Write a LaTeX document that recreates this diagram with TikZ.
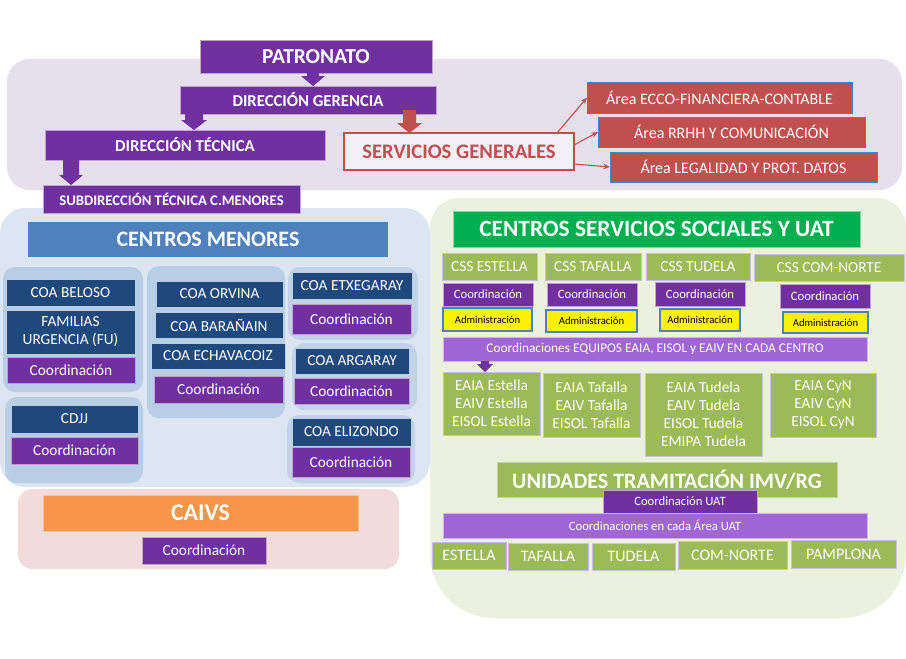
\documentclass[tikz,border=0pt]{standalone}
\usepackage{fontspec}
\setmainfont{Carlito}
\usetikzlibrary{calc,arrows.meta}
\definecolor{P}{HTML}{7030A0}
\definecolor{MP}{HTML}{A066D3}
\definecolor{LAV}{HTML}{E5E0EC}
\definecolor{R}{HTML}{C0504D}
\definecolor{B}{HTML}{4F81BD}
\definecolor{N}{HTML}{1F497D}
\definecolor{LB}{HTML}{DCE6F2}
\definecolor{SB}{HTML}{B9CDE5}
\definecolor{GB}{HTML}{EBF1DE}
\definecolor{G}{HTML}{9BBB59}
\definecolor{BG}{HTML}{00B050}
\definecolor{O}{HTML}{F79646}
\definecolor{PK}{HTML}{F2DCDB}
\definecolor{SGF}{HTML}{F3F0F7}
\definecolor{GL}{HTML}{CBC0DD}
\pgfdeclarelayer{back}
\pgfdeclarelayer{mid}
\pgfsetlayers{back,mid,main}
\tikzset{
  box/.style={rectangle,inner sep=0pt,outer sep=0pt,align=center,text=white,line width=0.6pt},
  purpbox/.style={fill=P,draw=P!45!white},
  redbox/.style={fill=R,draw=B},
  navybox/.style={fill=N,draw=B!40!white},
  greenbox/.style={fill=G,draw=GL},
  mpbox/.style={fill=MP,draw=MP!50!white},
  adminbox/.style={fill=yellow,draw=B,text=black,line width=0.8pt},
  thinred/.style={draw=R,line width=0.8pt,-{Stealth[length=5pt,width=4pt]}},
  rail/.style={draw=P,line width=6pt}
}
\newcommand{\mkbox}[7]{%
  \pgfmathsetmacro{\bxw}{(#4-#2)*0.75}%
  \pgfmathsetmacro{\bxh}{(#5-#3)*0.75}%
  \node[box,#6,minimum width=\bxw pt,minimum height=\bxh pt] (#1) at ({(#2+#4)/2},{(#3+#5)/2}) {#7};}
\newcommand{\blockdown}[8]{%
  \coordinate (bxa) at (#2,0);
  \fill[#1] ($(bxa |- #3.south)+(-#5,-#8)$) -- ($(bxa |- #3.south)+(#5,-#8)$)
    -- ($(bxa |- #4.north)+(#5,-#7)$) -- ($(bxa |- #4.north)+(#6,-#7)$)
    -- (bxa |- #4.north) -- ($(bxa |- #4.north)+(-#6,-#7)$)
    -- ($(bxa |- #4.north)+(-#5,-#7)$) -- cycle;}
\newcommand{\fsz}[2]{\fontsize{#1}{#2}\selectfont}
\begin{document}
\begin{tikzpicture}[x=0.75pt,y=-0.75pt]
\useasboundingbox (0,0) rectangle (906,658);
% ---------- background regions ----------
\fill[LAV,rounded corners=17pt] (7,59) rectangle (902,190);
\fill[LB,rounded corners=19pt] (0,208) rectangle (430,487);
\fill[GB,rounded corners=48pt] (430,198) rectangle (906,618);
\fill[GB,rounded corners=22pt] (430,198) rectangle (906,450);
\fill[PK,rounded corners=11pt] (18,489) rectangle (399,569);
\fill[SB,rounded corners=9pt] (3,267) rectangle (143,392);
\fill[SB,rounded corners=9pt] (5,397) rectangle (143,483);
\fill[SB,rounded corners=9pt] (147,266) rectangle (285,418);
\fill[SB!75!LB,rounded corners=9pt] (288,267) rectangle (418,340);
\fill[SB!75!LB,rounded corners=9pt] (292,343) rectangle (417,410);
\fill[SB!75!LB,rounded corners=9pt] (287,415) rectangle (415,483);
% ---------- top hierarchy ----------
\mkbox{patronato}{200}{40}{432}{73}{purpbox,font=\bfseries\fsz{16}{19}}{PATRONATO}
\mkbox{dg}{180}{86}{436}{114}{purpbox,font=\bfseries\fsz{12.5}{15}}{DIRECCIÓN GERENCIA}
\mkbox{dt}{45}{130}{325}{160}{purpbox,font=\bfseries\fsz{12.5}{15}}{DIRECCIÓN TÉCNICA}
\mkbox{sub}{43}{185}{300}{213}{purpbox,font=\bfseries\fsz{11}{13}}{SUBDIRECCIÓN TÉCNICA C.MENORES}
\mkbox{sg}{344}{133}{574}{170}{fill=SGF,draw=R,line width=1pt,text=R,font=\bfseries\fsz{15.5}{18}}{SERVICIOS GENERALES}
\mkbox{a1}{587}{82}{852}{113}{redbox,font=\fsz{12}{14}}{Área ECCO-FINANCIERA-CONTABLE}
\mkbox{a2}{598}{117}{865}{147}{redbox,font=\fsz{12}{14}}{Área RRHH Y COMUNICACIÓN}
\mkbox{a3}{610}{152}{877}{182}{redbox,font=\fsz{12}{14}}{Área LEGALIDAD Y PROT. DATOS}
\blockdown{P}{313}{patronato}{dg}{6}{12}{10}{0}
\blockdown{P}{194}{dg}{dt}{9}{13}{10}{0}
\blockdown{P}{71}{dt}{sub}{8}{12}{10}{0}
\blockdown{R}{409.5}{dg}{sg}{6.5}{12.5}{10}{4}
\draw[thinred] ($(sg.north east)+(-17,0)$) -- (a1.west);
\draw[thinred] ($(sg.east)+(0,-6.5)$) -- (a2.west);
\draw[thinred] ($(sg.east)+(0,12.5)$) -- (a3.west);
% ---------- centros menores ----------
\mkbox{cm}{28}{222}{388}{257}{fill=B,font=\bfseries\fsz{16.5}{19}}{CENTROS MENORES}
\mkbox{beloso}{6}{279}{135}{306}{navybox,font=\fsz{11.5}{13.5}}{COA BELOSO}
\mkbox{fu}{6}{310}{135}{354}{navybox,font=\fsz{11.5}{13.5}}{FAMILIAS\\URGENCIA (FU)}
\mkbox{co1}{7}{357}{135}{383}{purpbox,font=\fsz{11.5}{13.5}}{Coordinación}
\mkbox{orvina}{156}{281}{283}{307}{navybox,font=\fsz{11.5}{13.5}}{COA ORVINA}
\mkbox{baranain}{155}{312}{283}{338}{navybox,font=\fsz{11.5}{13.5}}{COA BARAÑAIN}
\mkbox{echa}{151}{343}{285}{369}{navybox,font=\fsz{11.5}{13.5}}{COA ECHAVACOIZ}
\mkbox{co2}{154}{376}{283}{403}{purpbox,font=\fsz{11.5}{13.5}}{Coordinación}
\mkbox{cdjj}{11}{405}{138}{433}{navybox,font=\fsz{11.5}{13.5}}{CDJJ}
\mkbox{co3}{11}{437}{138}{464}{purpbox,font=\fsz{11.5}{13.5}}{Coordinación}
\mkbox{etx}{292}{272}{412}{299}{navybox,font=\fsz{11.5}{13.5}}{COA ETXEGARAY}
\mkbox{co4}{292}{304}{411}{334}{purpbox,font=\fsz{11.5}{13.5}}{Coordinación}
\mkbox{arg}{295}{348}{409}{374}{navybox,font=\fsz{11.5}{13.5}}{COA ARGARAY}
\mkbox{co5}{294}{378}{409}{404}{purpbox,font=\fsz{11.5}{13.5}}{Coordinación}
\mkbox{eliz}{292}{418}{411}{446}{navybox,font=\fsz{11.5}{13.5}}{COA ELIZONDO}
\mkbox{co6}{292}{447}{410}{477}{purpbox,font=\fsz{11.5}{13.5}}{Coordinación}
% ---------- CAIVS ----------
\mkbox{caivs}{43}{495}{358}{531}{fill=O,draw=O!60!white,font=\bfseries\fsz{18}{21}}{CAIVS}
\mkbox{co7}{142}{537}{266}{564}{purpbox,font=\fsz{11.5}{13.5}}{Coordinación}
% ---------- centros servicios sociales ----------
\mkbox{cssuat}{453}{211}{860}{247}{fill=BG,draw=BG!50!white,font=\bfseries\fsz{17.5}{20}}{CENTROS SERVICIOS SOCIALES Y UAT}
\mkbox{css1}{442}{253}{537}{280}{greenbox,font=\fsz{11.5}{13.5}}{CSS ESTELLA}
\mkbox{css2}{545}{253}{641}{280}{greenbox,font=\fsz{11.5}{13.5}}{CSS TAFALLA}
\mkbox{css3}{646}{253}{750}{280}{greenbox,font=\fsz{11.5}{13.5}}{CSS TUDELA}
\mkbox{css4}{754}{254}{904}{281}{greenbox,font=\fsz{11.5}{13.5}}{CSS COM-NORTE}
\mkbox{cc1}{443}{283}{533}{306}{purpbox,font=\fsz{9.5}{11}}{Coordinación}
\mkbox{cc2}{547}{283}{637}{306}{purpbox,font=\fsz{9.5}{11}}{Coordinación}
\mkbox{cc3}{655}{282}{745}{306}{purpbox,font=\fsz{9.5}{11}}{Coordinación}
\mkbox{cc4}{780}{284}{870}{308}{purpbox,font=\fsz{9.5}{11}}{Coordinación}
\mkbox{ad1}{443}{308}{532}{331}{adminbox,font=\fsz{8}{9.5}}{Administración}
\mkbox{ad2}{546}{310}{637}{332}{adminbox,font=\fsz{8}{9.5}}{Administración}
\mkbox{ad3}{660}{309}{740}{331}{adminbox,font=\fsz{8}{9.5}}{Administración}
\mkbox{ad4}{783}{312}{868}{333}{adminbox,font=\fsz{8}{9.5}}{Administración}
\mkbox{bar}{443}{337}{867}{361}{mpbox,font=\fsz{10}{12}}{Coordinaciones EQUIPOS EAIA, EISOL y EAIV EN CADA CENTRO}
\begin{pgfonlayer}{mid}
\coordinate (r1) at (486,0);
\coordinate (r2) at (595,0);
\coordinate (r3) at (700,0);
\coordinate (r4) at (822,0);
\draw[rail] (r1 |- cc1.south) -- (r1 |- bar.north);
\draw[rail] (r2 |- cc2.south) -- (r2 |- bar.north);
\draw[rail] (r3 |- cc3.south) -- (r3 |- bar.north);
\draw[rail] (r4 |- cc4.south) -- (r4 |- bar.north);
\end{pgfonlayer}
\mkbox{e1}{443}{372}{540}{435}{greenbox,font=\fsz{11.5}{13.5}}{EAIA Estella\\EAIV Estella\\EISOL Estella}
\mkbox{e2}{543}{373}{640}{437}{greenbox,font=\fsz{11.5}{13.5}}{EAIA Tafalla\\EAIV Tafalla\\EISOL Tafalla}
\mkbox{e3}{645}{373}{762}{456}{greenbox,font=\fsz{11.5}{13.5}}{EAIA Tudela\\EAIV Tudela\\EISOL Tudela\\EMIPA Tudela}
\mkbox{e4}{770}{373}{876}{437}{greenbox,font=\fsz{11.5}{13.5}}{EAIA CyN\\EAIV CyN\\EISOL CyN}
\blockdown{P}{485}{bar}{e1}{4}{8}{8}{0}
% ---------- unidades tramitacion ----------
\mkbox{uat}{497}{462}{837}{497}{greenbox,draw=G!60!white,font=\bfseries\fsz{16.5}{19}}{UNIDADES TRAMITACIÓN IMV/RG}
\mkbox{couat}{603}{490}{757}{513}{purpbox,font=\fsz{9.5}{11}}{Coordinación UAT}
\mkbox{cua}{443}{513}{867}{538}{mpbox,font=\fsz{9.5}{11}}{Coordinaciones en cada Área UAT}
\mkbox{u1}{432}{542}{506}{569}{greenbox,font=\fsz{12}{14}}{ESTELLA}
\mkbox{u2}{508}{543}{588}{570}{greenbox,font=\fsz{12}{14}}{TAFALLA}
\mkbox{u3}{592}{543}{675}{570}{greenbox,font=\fsz{12}{14}}{TUDELA}
\mkbox{u4}{678}{541}{787}{569}{greenbox,font=\fsz{12}{14}}{COM-NORTE}
\mkbox{u5}{791}{540}{896}{568}{greenbox,font=\fsz{12}{14}}{PAMPLONA}
\end{tikzpicture}
\end{document}
